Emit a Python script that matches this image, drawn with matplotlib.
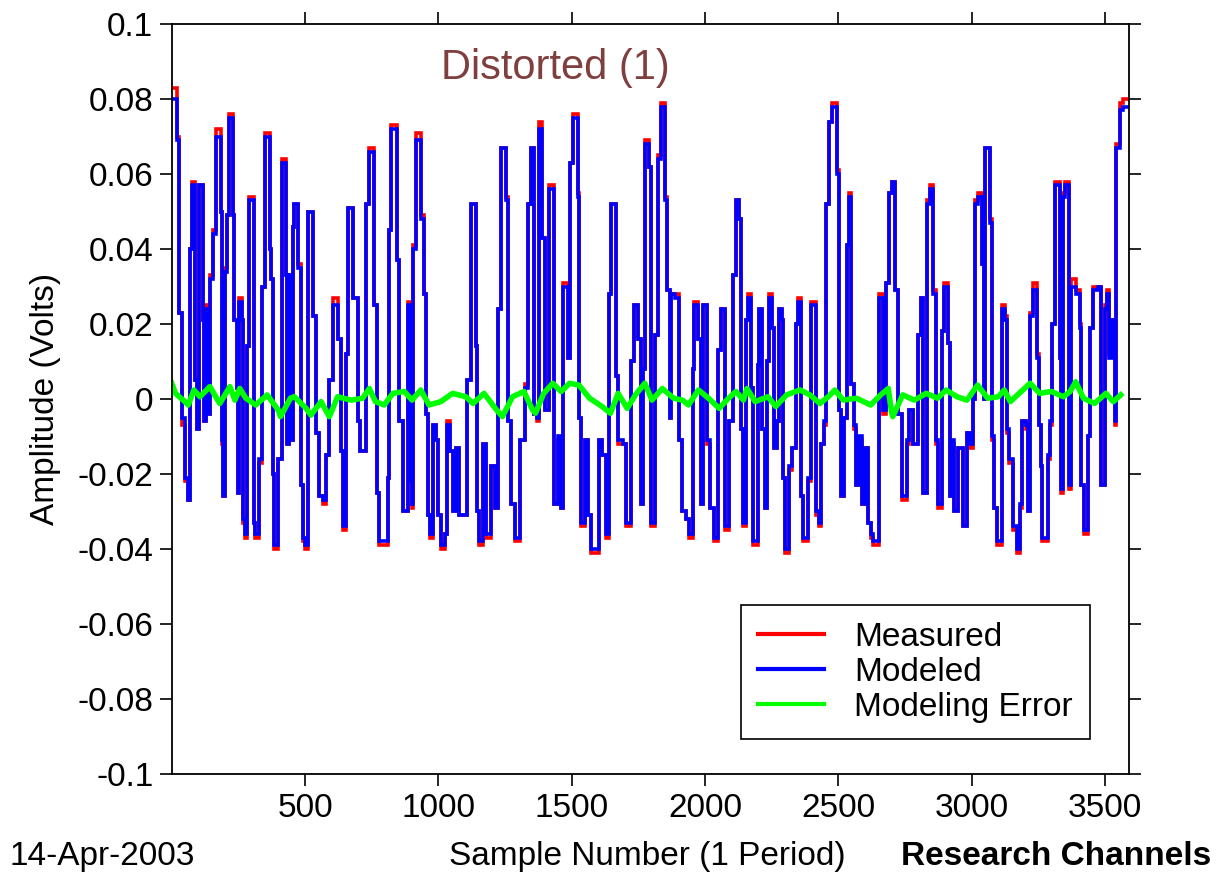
import numpy as np
import matplotlib
matplotlib.use("Agg")
import matplotlib.pyplot as plt

plt.rcParams['font.family'] = ['Liberation Sans', 'DejaVu Sans']

# waveform read off the picture as a step signal:
# sample where each level starts, modeled level and measured level (mV)
seg_start = [
    0, 19, 26, 37, 49, 60, 67, 75, 86, 94, 101, 116, 120, 127, 135, 139, 142, 153, 165, 183,
    187, 191, 198, 206, 213, 228, 232, 243, 247, 254, 262, 266, 273, 281, 288, 307, 314, 326, 337, 348,
    367, 374, 378, 385, 400, 412, 430, 434, 441, 447, 456, 460, 475, 485, 491, 500, 510, 529, 541, 553,
    568, 578, 591, 606, 622, 635, 641, 653, 662, 679, 697, 706, 729, 741, 760, 769, 779, 810, 816, 822,
    843, 853, 866, 885, 893, 900, 906, 915, 936, 946, 952, 962, 969, 980, 990, 999, 1009, 1024, 1031, 1042,
    1055, 1067, 1077, 1109, 1121, 1140, 1146, 1152, 1167, 1180, 1196, 1211, 1224, 1236, 1255, 1262, 1274, 1286, 1305, 1324,
    1336, 1346, 1360, 1370, 1379, 1389, 1398, 1416, 1433, 1448, 1460, 1468, 1485, 1492, 1504, 1523, 1529, 1536, 1548, 1560,
    1573, 1604, 1614, 1629, 1641, 1648, 1666, 1673, 1691, 1704, 1723, 1735, 1748, 1760, 1766, 1773, 1788, 1798, 1813, 1822,
    1834, 1850, 1859, 1867, 1873, 1888, 1903, 1915, 1928, 1940, 1954, 1960, 1975, 1984, 1992, 2009, 2019, 2032, 2048, 2060,
    2073, 2090, 2103, 2115, 2128, 2135, 2144, 2154, 2160, 2172, 2179, 2197, 2204, 2215, 2223, 2234, 2241, 2250, 2258, 2271,
    2277, 2287, 2293, 2300, 2315, 2325, 2340, 2347, 2358, 2366, 2387, 2396, 2415, 2427, 2435, 2446, 2452, 2465, 2477, 2496,
    2503, 2510, 2522, 2533, 2540, 2549, 2558, 2566, 2577, 2587, 2600, 2610, 2622, 2631, 2652, 2668, 2677, 2690, 2700, 2712,
    2722, 2737, 2756, 2766, 2781, 2800, 2810, 2819, 2831, 2844, 2856, 2866, 2872, 2887, 2897, 2912, 2919, 2926, 2932, 2947,
    2966, 2981, 2994, 3004, 3012, 3022, 3037, 3045, 3051, 3069, 3075, 3082, 3094, 3112, 3125, 3132, 3140, 3155, 3168, 3181,
    3188, 3203, 3211, 3219, 3230, 3244, 3253, 3259, 3265, 3286, 3294, 3300, 3311, 3330, 3334, 3343, 3349, 3365, 3374, 3392,
    3405, 3411, 3421, 3436, 3443, 3454, 3473, 3486, 3498, 3506, 3515, 3527, 3536, 3542, 3555, 3567,
]
modeled_mv = [
    80, 69, 23, -5, -21, -27, 40, 57, 5, -8, 57, 21, -6, 24, 11, -4, 32, 44, 70, 50,
    -11, -26, 34, 49, 75, 49, 21, 3, -25, 26, 21, -32, -36, 14, 53, -33, -36, -16, 30, 70,
    40, 32, -20, -39, -16, 63, 33, -12, 33, -11, 46, 52, 35, -23, -37, -39, 50, 22, -9, -26,
    -27, -15, 5, 25, 16, -14, -34, 12, 51, 27, -6, -14, 52, 66, 25, -25, -38, -21, 45, 72,
    37, -6, -30, 25, -22, -28, 40, 69, 48, 28, -4, -31, -36, -7, -11, -31, -39, -36, -7, -14,
    -30, -13, -31, 5, 52, 14, -30, -38, -12, -36, -18, -29, 24, 67, 53, -6, -28, -37, -11, 3,
    52, 67, -4, -5, 72, 43, -3, 56, -28, -10, -29, 30, 11, 63, 75, 54, -5, -33, -11, -31,
    -40, -11, -15, -36, 28, 52, 6, -11, -12, -33, 10, 25, 16, -28, 8, 68, 62, -33, 17, 64,
    78, 53, 29, -5, 28, 27, -11, -30, -32, -36, 8, 25, 16, -28, 25, -11, -29, -37, 13, 24,
    -34, -6, 33, 53, 48, -8, -33, 21, 27, 3, -38, 9, 24, -8, -29, 10, 27, 19, -13, -6,
    24, 21, -21, -40, -18, -13, 20, 26, -26, -37, -21, 25, -30, -33, -12, -6, 52, 74, 78, 60,
    -3, -26, -5, 41, 54, 4, -7, -23, -10, -28, -13, -33, -36, -38, 27, -3, 31, 55, 58, 29,
    -4, -26, -11, -3, -12, 17, 27, -25, 52, 56, 28, -11, -28, 18, 30, 15, -26, -11, -30, -13,
    -34, -9, -12, 0, 52, 54, 36, 0, 67, 47, -10, -29, -38, 24, 21, -8, -16, -34, -40, -28,
    -6, -7, -30, 22, 29, 11, -7, -18, -37, -15, -6, 20, 57, 11, -24, 54, 57, -23, 30, 28,
    19, -23, -35, -10, 19, 29, 30, -23, 24, 28, 11, 21, -6, 67, 77, 78,
]
measured_mv = [
    83, 70, 23, -7, -22, -27, 40, 58, 5, -8, 57, 21, -6, 25, 11, -4, 33, 45, 72, 50,
    -12, -26, 35, 49, 76, 49, 21, 3, -25, 27, 21, -33, -37, 14, 54, -33, -37, -17, 30, 71,
    40, 32, -20, -40, -16, 64, 33, -12, 33, -11, 46, 52, 36, -23, -38, -40, 50, 22, -9, -26,
    -28, -15, 5, 27, 16, -14, -35, 12, 51, 27, -6, -14, 52, 67, 25, -25, -39, -21, 45, 73,
    37, -6, -30, 26, -22, -29, 41, 71, 49, 28, -4, -31, -37, -7, -11, -31, -40, -36, -6, -14,
    -30, -13, -31, 5, 52, 14, -30, -39, -12, -37, -18, -29, 24, 67, 54, -6, -28, -38, -11, 4,
    52, 67, -4, -6, 74, 43, -3, 57, -28, -11, -29, 31, 11, 63, 76, 55, -5, -34, -11, -31,
    -41, -11, -15, -37, 28, 52, 6, -12, -12, -34, 10, 25, 16, -28, 8, 69, 62, -34, 17, 65,
    79, 54, 29, -5, 28, 28, -11, -30, -32, -37, 8, 26, 16, -28, 25, -12, -29, -38, 13, 24,
    -35, -6, 33, 53, 48, -8, -34, 21, 28, 3, -39, 9, 24, -8, -29, 10, 28, 19, -13, -6,
    24, 21, -21, -41, -19, -13, 20, 27, -26, -38, -22, 26, -31, -34, -12, -7, 52, 74, 79, 61,
    -3, -26, -5, 41, 55, 4, -8, -23, -11, -28, -13, -33, -37, -39, 28, -4, 31, 55, 58, 29,
    -4, -27, -12, -3, -12, 17, 27, -25, 53, 57, 29, -12, -29, 18, 31, 15, -26, -12, -30, -13,
    -34, -9, -13, 0, 53, 55, 36, 0, 67, 48, -11, -29, -39, 25, 22, -9, -17, -35, -41, -29,
    -6, -8, -30, 23, 31, 12, -7, -18, -38, -16, -7, 20, 58, 11, -25, 55, 58, -24, 32, 29,
    20, -23, -36, -10, 19, 30, 30, -23, 25, 29, 12, 21, -7, 68, 79, 80,
]
last_sample = 3590

# modeling error (green trace), mV
err_sample = [
    0, 14, 43, 62, 83, 106, 143, 180, 218, 237, 255, 278, 315, 358, 399, 408, 445,
    460, 504, 522, 560, 591, 622, 672, 716, 741, 764, 797, 829, 872, 901,
    934, 965, 1009, 1053, 1103, 1130, 1171, 1218, 1240, 1278, 1321, 1353,
    1364, 1395, 1429, 1460, 1492, 1527, 1567, 1614, 1645, 1674, 1708, 1739, 1774, 1801,
    1840, 1882, 1915, 1938, 1975, 2013, 2053, 2088, 2116, 2144, 2157, 2188, 2236,
    2265, 2306, 2356, 2393, 2431, 2462, 2487, 2518, 2568, 2621, 2659, 2687, 2700,
    2704, 2741, 2785, 2829, 2872, 2904, 2945, 2982, 3022, 3060, 3100, 3122, 3145,
    3178, 3219, 3255, 3299, 3344, 3369, 3390, 3419, 3461, 3503, 3531, 3559,
]
err_mv = [
    4.2, 1.5, -0.3, -1.6, 2.4, 0.6, 3.3, -1.2, 3.3, -0.3, 2.8, 0.2, -1.6, 1.1, -2.9, -4.7, 0.2,
    0.6, -2.5, -4.3, -0.7, -4.7, 0.6, -0.3, 0.2, 2.8, -0.7, -1.6, 1.5, 2.0, -0.3,
    2.4, -1.6, -0.7, 1.5, 0.6, -1.2, 1.5, -2.9, -4.7, 0.6, 2.0, -2.9,
    -3.8, 1.5, 4.2, 2.0, 4.2, 3.7, 0.2, -2.0, -3.8, 1.5, -2.5, 1.1, 4.2, -0.3,
    2.8, 0.2, -0.3, -1.6, 2.4, 0.2, -2.5, 0.2, 2.0, -0.3, 2.8, -0.7, 0.6,
    -2.0, 1.1, 2.4, 1.1, -1.2, 0.6, 2.4, -0.3, 0.2, -1.6, 1.1, 2.8, -3.8,
    -4.7, 1.1, -0.3, 1.5, 0.2, 2.4, 0.6, -0.3, 3.7, 0.2, 0.6, 2.4, -0.7,
    1.5, 4.2, 1.5, 2.0, 0.6, 2.0, 4.6, 0.2, -1.2, 1.5, -0.7, 1.1,
]

ytick_vals = [-0.1, -0.08, -0.06, -0.04, -0.02, 0, 0.02, 0.04, 0.06, 0.08, 0.1]
ytick_labels = ['-0.1', '-0.08', '-0.06', '-0.04', '-0.02', '0', '0.02', '0.04', '0.06', '0.08', '0.1']
xtick_vals = [500, 1000, 1500, 2000, 2500, 3000, 3500]

fig = plt.figure(figsize=(12.19, 8.77), dpi=100)
ax = fig.add_axes([0.1411, 0.1175, 0.7851, 0.8551])

edges = seg_start + [last_sample]
meas_v = np.array(measured_mv) / 1000.0
mod_v = np.array(modeled_mv) / 1000.0
ax.stairs(meas_v, edges, baseline=None, color='#ff0000', linewidth=2.6, label='Measured')
ax.stairs(mod_v, edges, baseline=None, color='#0000ff', linewidth=2.6, label='Modeled')
ax.plot(err_sample, np.array(err_mv) / 1000.0, color='#00ff00', linewidth=4.0, label='Modeling Error')

ax.set_xlim(1, last_sample)
ax.set_ylim(-0.1, 0.1)
ax.set_xticks(xtick_vals)
ax.set_yticks(ytick_vals)
ax.set_yticklabels(ytick_labels)
ax.tick_params(direction='out', length=8.5, width=1.2, top=True, right=True, labelsize=24, pad=5)
for sp in ax.spines.values():
    sp.set_linewidth(1.3)

# legend box sits at about (741, 605) px in the reference
leg = ax.legend(loc='upper left', bbox_to_anchor=(0.608, 0.310), bbox_transform=fig.transFigure,
                borderaxespad=0, fontsize=24, fancybox=False, framealpha=1, edgecolor='black',
                handlelength=2.0, handletextpad=0.9, borderpad=0.5, labelspacing=0.12)
leg.get_frame().set_linewidth(1.2)
for ln in leg.get_lines():
    ln.set_linewidth(3.0)

fig.text(0.456, 0.922, 'Distorted (1)', color='#7f3f3f', fontsize=30, ha='center', va='center')
fig.text(0.037, 0.545, 'Amplitude (Volts)', fontsize=24, rotation=90, ha='center', va='center')
fig.text(0.531, 0.023, 'Sample Number (1 Period)', fontsize=24, ha='center', va='center')
fig.text(0.008, 0.023, '14-Apr-2003', fontsize=24, ha='left', va='center')
fig.text(0.994, 0.023, 'Research Channels', fontsize=24, fontweight='bold', ha='right', va='center')

fig.savefig('out.png', dpi=100)
